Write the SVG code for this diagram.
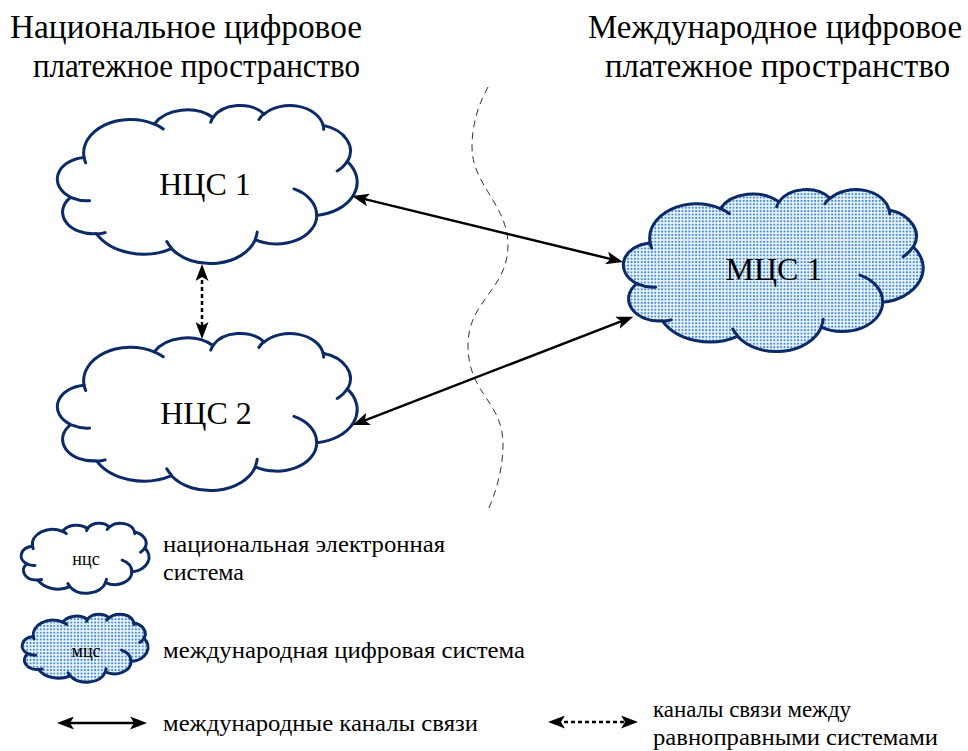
<svg xmlns="http://www.w3.org/2000/svg" xmlns:xlink="http://www.w3.org/1999/xlink" width="968" height="751" viewBox="0 0 968 751">
<style>
text{font-family:'Liberation Serif','Times New Roman',serif;fill:#000}
.title{font-size:33px}
.lbl{font-size:32px;text-anchor:middle}
.leg{font-size:24px}
.small{font-size:18px;text-anchor:middle}
.outline{stroke:#0c2a66;stroke-width:3;stroke-linejoin:round;stroke-linecap:round}
.hooks{fill:none;stroke:#0c2a66;stroke-width:3;stroke-linecap:round}
.conn{fill:none;stroke:#000;stroke-width:2.5;marker-start:url(#ah);marker-end:url(#ah)}
.dot{stroke-dasharray:4 3}
</style>
<defs>
<marker id="ah" viewBox="0 0 17 13" refX="8" refY="6.5" markerWidth="17" markerHeight="13" markerUnits="userSpaceOnUse" orient="auto-start-reverse">
<path d="M0,0 L17,6.5 L0,13 L4,6.5 Z" fill="#000"/>
</marker>
<pattern id="dotsBig" patternUnits="userSpaceOnUse" width="3.4" height="3.4" patternTransform="scale(0.33333,0.61728)">
<rect width="3.4" height="3.4" fill="#eef5fc"/>
<circle cx="1.7" cy="1.7" r="1.05" fill="#3f8bd6"/>
</pattern>
<pattern id="dotsSmall" patternUnits="userSpaceOnUse" width="3.4" height="3.4" patternTransform="scale(0.79365,1.47059)">
<rect width="3.4" height="3.4" fill="#eef5fc"/>
<circle cx="1.7" cy="1.7" r="1.05" fill="#3f8bd6"/>
</pattern>
<path id="cloud" vector-effect="non-scaling-stroke" d="M9.03,33.26 A15.63,21.27 0 0 1 32.42,12.04 A12.35,16.82 0 0 1 51.99,7.95 A10.10,13.76 0 0 1 69.06,5.74 A11.24,15.27 0 0 1 88.70,12.91 A12.35,16.84 0 0 1 96.81,35.79 A15.68,21.34 0 0 1 86.59,69.92 A13.39,18.21 0 0 1 66.11,85.22 A15.63,21.33 0 0 1 38.16,90.90 A17.87,24.41 0 0 1 13.13,81.35 A10.09,13.70 0 0 1 4.59,58.38 A10.06,13.76 0 0 1 9.03,33.26 Z"/>
<path id="hooks" vector-effect="non-scaling-stroke" d="M10.86,60.59 A10.06,13.76 0 0 1 5.00,58.75 M16.04,80.78 A10.09,13.70 0 0 1 13.47,81.67 M38.14,90.49 A15.63,21.33 0 0 1 36.60,86.45 M66.73,80.44 A15.63,21.33 0 0 1 66.11,84.86 M79.00,53.13 A13.39,18.21 0 0 1 86.53,69.65 M96.75,35.54 A12.35,16.84 0 0 1 93.40,41.74 M88.71,12.56 A11.24,15.27 0 0 1 88.89,15.49 M67.31,9.15 A11.24,15.27 0 0 1 69.03,5.42 M51.25,10.93 A10.10,13.76 0 0 1 52.08,7.71 M32.41,12.02 A15.63,21.27 0 0 1 35.42,15.15 M9.55,36.55 A15.63,21.27 0 0 1 9.03,33.27"/>
</defs>
<rect width="968" height="751" fill="#fff"/>

<g id="titles">
<text class="title" x="10" y="38" textLength="352" lengthAdjust="spacingAndGlyphs">Национальное цифровое</text>
<text class="title" x="33" y="77" textLength="327" lengthAdjust="spacingAndGlyphs">платежное пространство</text>
<text class="title" x="588" y="38" textLength="374" lengthAdjust="spacingAndGlyphs">Международное цифровое</text>
<text class="title" x="605" y="77" textLength="345" lengthAdjust="spacingAndGlyphs">платежное пространство</text>
</g>

<g id="divider">
<path d="M488,87 C478,105 472,125 472,147 C472,185 508,205 508,245 C508,290 468,300 468,345 C468,395 503,400 503,445 C503,470 495,495 488,510" fill="none" stroke="#333" stroke-width="1" stroke-dasharray="7 5"/>
</g>

<g id="ncs1">
<use xlink:href="#cloud" href="#cloud" class="outline" fill="#fff" transform="translate(57,105) scale(3,1.58)"/>
<use xlink:href="#hooks" href="#hooks" class="hooks" transform="translate(57,105) scale(3,1.58)"/>
<text class="lbl" x="205" y="195">НЦС 1</text>
</g>

<g id="ncs2">
<use xlink:href="#cloud" href="#cloud" class="outline" fill="#fff" transform="translate(57,333) scale(3,1.57)"/>
<use xlink:href="#hooks" href="#hooks" class="hooks" transform="translate(57,333) scale(3,1.57)"/>
<text class="lbl" x="206" y="424">НЦС 2</text>
</g>

<g id="mcs1">
<use xlink:href="#cloud" href="#cloud" class="outline" fill="url(#dotsBig)" transform="translate(623,189) scale(3,1.62)"/>
<use xlink:href="#hooks" href="#hooks" class="hooks" transform="translate(623,189) scale(3,1.62)"/>
<text class="lbl" x="774" y="280">МЦС 1</text>
</g>

<g id="connectors">
<path class="conn" d="M360.7,198.1 L614.3,259.9"/>
<path class="conn" d="M361.1,421.8 L624.9,319.9"/>
<path class="conn dot" d="M202,273 L202,330"/>
</g>

<g id="legend-ncs">
<use xlink:href="#cloud" href="#cloud" class="outline" fill="#fff" transform="translate(21,523) scale(1.28,0.70)"/>
<use xlink:href="#hooks" href="#hooks" class="hooks" transform="translate(21,523) scale(1.28,0.70)"/>
<text class="small" x="86" y="565">нцс</text>
<text class="leg" x="163" y="552" textLength="282" lengthAdjust="spacingAndGlyphs">национальная электронная</text>
<text class="leg" x="163" y="580">система</text>
</g>

<g id="legend-mcs">
<use xlink:href="#cloud" href="#cloud" class="outline" fill="url(#dotsSmall)" transform="translate(22,614) scale(1.26,0.68)"/>
<use xlink:href="#hooks" href="#hooks" class="hooks" transform="translate(22,614) scale(1.26,0.68)"/>
<text class="small" x="86" y="657">мцс</text>
<text class="leg" x="163" y="658" textLength="362" lengthAdjust="spacingAndGlyphs">международная цифровая система</text>
</g>

<g id="legend-arrows">
<path class="conn" d="M66,723 L138,723"/>
<text class="leg" x="163" y="731" textLength="315" lengthAdjust="spacingAndGlyphs">международные каналы связи</text>
<path class="conn dot" d="M557,722 L629,722"/>
<text class="leg" x="653" y="717" textLength="198" lengthAdjust="spacingAndGlyphs">каналы связи между</text>
<text class="leg" x="653" y="745" textLength="285" lengthAdjust="spacingAndGlyphs">равноправными системами</text>
</g>
</svg>
